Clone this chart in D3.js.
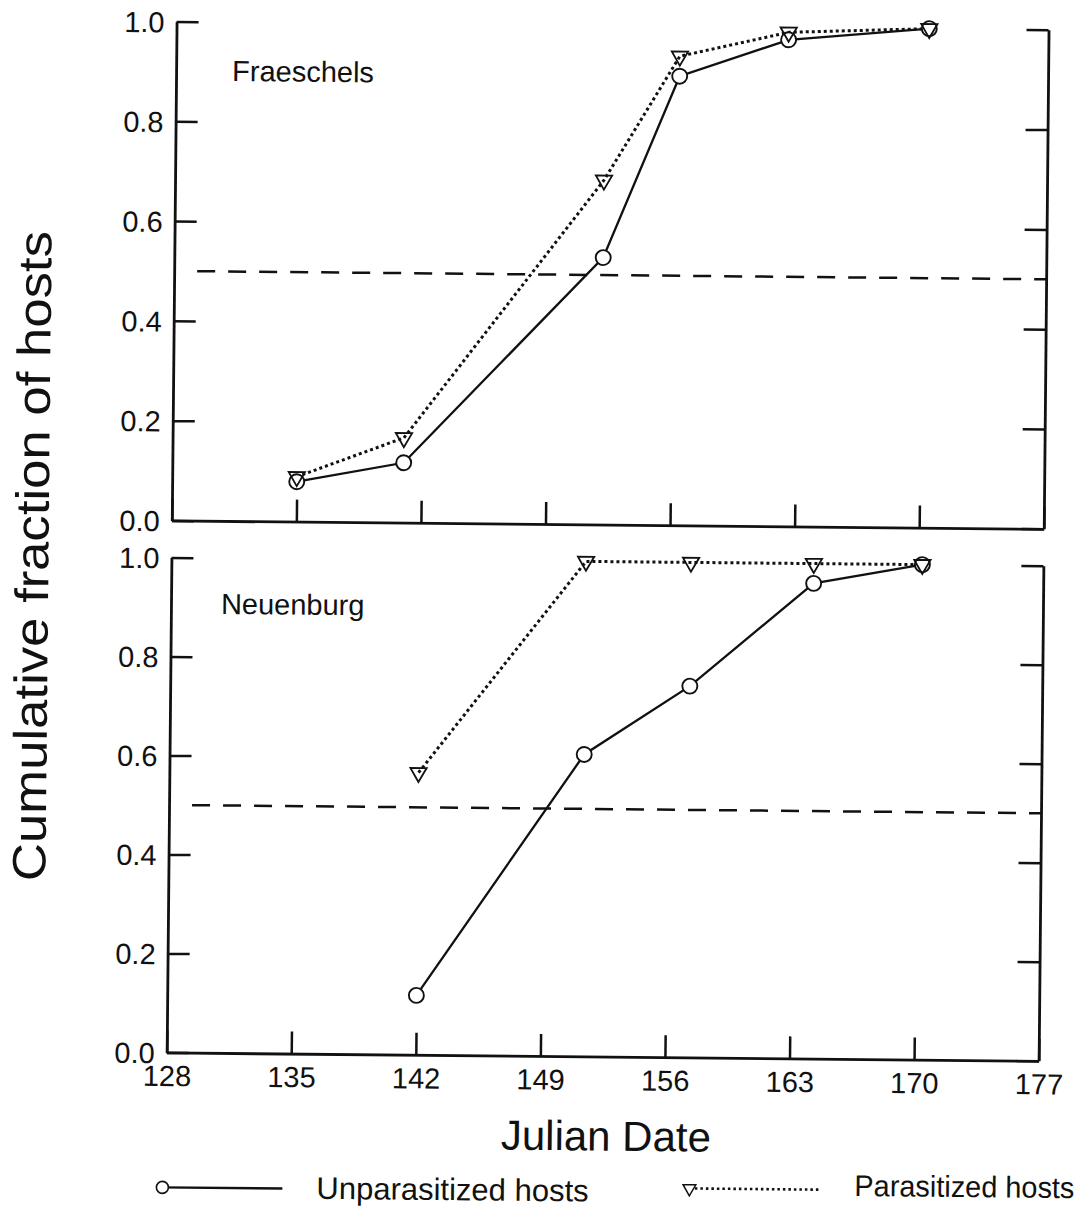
<!DOCTYPE html>
<html>
<head>
<meta charset="utf-8">
<script src="https://cdn.jsdelivr.net/npm/d3@7"></script>
<style>
  html, body { margin: 0; padding: 0; background: #fff; }
  svg { display: block; }
  text { font-family: "Liberation Sans", Arial, sans-serif; fill: #111; }
</style>
</head>
<body>
<svg id="chart" width="1089" height="1208"></svg>
<script>
// Julian-date axis ticks and fraction ticks
const dateTicks = [128, 135, 142, 149, 156, 163, 170, 177];
const fractionTicks = [0, 0.2, 0.4, 0.6, 0.8, 1.0];

// Fraeschels site
const fraeschelsDays = [135, 141, 152.1, 156.3, 162.4, 170.3];
const fraeschelsUnparasitized = [0.08, 0.12, 0.535, 0.90, 0.975, 1.0];
const fraeschelsParasitized = [0.09, 0.17, 0.69, 0.94, 0.99, 1.0];

// Neuenburg site
const neuenburgDays = [142, 151.3, 157.2, 164.1, 170.2];
const neuenburgUnparasitized = [0.12, 0.61, 0.75, 0.96, 1.0];
const neuenburgParasitized = [0.57, 1.0, 1.0, 1.0, 1.0];

const halfLevel = 0.5;

const siteNames = ["Fraeschels", "Neuenburg"];
const seriesNames = ["Unparasitized hosts", "Parasitized hosts"];

const svg = d3.select("#chart");
// the whole drawing sits slightly turned, as on the printed page
const root = svg.append("g").attr("transform", "rotate(0.55,544,604)");

const left = 171, right = 1043;
const x = d3.scaleLinear().domain([128, 177]).range([left, right]);

const panels = [
  { name: siteNames[0], top: 25, bottom: 524, days: fraeschelsDays,
    unpar: fraeschelsUnparasitized, par: fraeschelsParasitized, labels: false, labelPos: [227, 84] },
  { name: siteNames[1], top: 561, bottom: 1056, days: neuenburgDays,
    unpar: neuenburgUnparasitized, par: neuenburgParasitized, labels: true, labelPos: [221, 617] }
];

const triangle = d3.symbol().type(d3.symbolTriangle).size(115);
const tick = 22;
const ink = "#111";

panels.forEach(p => {
  const y = d3.scaleLinear().domain([0, 1]).range([p.bottom, p.top]);
  const g = root.append("g");

  // left axis with inward ticks and labels
  const ax = g.append("g").attr("transform", `translate(${left},0)`)
    .call(d3.axisLeft(y).tickValues(fractionTicks).tickSize(-tick).tickSizeOuter(0)
      .tickPadding(12).tickFormat(d3.format(".1f")));
  ax.selectAll("text").style("font-size", "29px").attr("dy", "0.36em");

  // right axis, ticks only
  g.append("g").attr("transform", `translate(${right},0)`)
    .call(d3.axisRight(y).tickValues(fractionTicks).tickSize(-tick).tickSizeOuter(0).tickFormat(""));

  // bottom axis
  const bx = g.append("g").attr("transform", `translate(0,${p.bottom})`)
    .call(d3.axisBottom(x).tickValues(dateTicks).tickSize(-tick).tickSizeOuter(0)
      .tickPadding(13).tickFormat(p.labels ? d3.format("d") : ""));
  bx.selectAll("text").style("font-size", "29px");

  g.selectAll(".domain").attr("stroke", ink).attr("stroke-width", 2.8);
  g.selectAll(".tick line").attr("stroke", ink).attr("stroke-width", 2.5);

  // 50% reference line
  g.append("line")
    .attr("x1", x(128) + 10).attr("x2", x(177))
    .attr("y1", y(halfLevel)).attr("y2", y(halfLevel))
    .attr("stroke", ink).attr("stroke-width", 2.5)
    .attr("stroke-dasharray", "18,13").attr("stroke-dashoffset", 18);

  const line = d3.line().x(d => x(d[0])).y(d => y(d[1]));
  const parPts = p.days.map((d, i) => [d, p.par[i]]);
  const unparPts = p.days.map((d, i) => [d, p.unpar[i]]);

  g.append("path").datum(parPts).attr("d", line)
    .attr("fill", "none").attr("stroke", ink).attr("stroke-width", 3)
    .attr("stroke-dasharray", "3,3");
  g.append("path").datum(unparPts).attr("d", line)
    .attr("fill", "none").attr("stroke", ink).attr("stroke-width", 2.3);

  g.selectAll(".circ").data(unparPts).join("circle")
    .attr("cx", d => x(d[0])).attr("cy", d => y(d[1])).attr("r", 7.5)
    .attr("fill", "#fff").attr("stroke", ink).attr("stroke-width", 1.9);
  g.selectAll(".tri").data(parPts).join("path")
    .attr("d", triangle)
    .attr("transform", d => `translate(${x(d[0])},${y(d[1])}) rotate(180)`)
    .attr("fill", "none").attr("stroke", ink).attr("stroke-width", 1.8);

  g.append("text").attr("x", p.labelPos[0]).attr("y", p.labelPos[1])
    .style("font-size", "29px").text(p.name);
});

// axis titles
root.append("text")
  .attr("transform", "translate(48,561) rotate(-90)")
  .attr("text-anchor", "middle").style("font-size", "47px")
  .attr("textLength", 650).attr("lengthAdjust", "spacingAndGlyphs")
  .text("Cumulative fraction of hosts");
root.append("text")
  .attr("x", 611).attr("y", 1150).attr("text-anchor", "middle")
  .style("font-size", "42px").text("Julian Date");

// legend
const lg = root.append("g");
lg.append("line").attr("x1", 168).attr("x2", 288).attr("y1", 1191).attr("y2", 1191)
  .attr("stroke", ink).attr("stroke-width", 2.3);
lg.append("circle").attr("cx", 168).attr("cy", 1191).attr("r", 6)
  .attr("fill", "#fff").attr("stroke", ink).attr("stroke-width", 1.6);
lg.append("text").attr("x", 322).attr("y", 1201).style("font-size", "31px").text(seriesNames[0]);

lg.append("line").attr("x1", 695).attr("x2", 827).attr("y1", 1187).attr("y2", 1187)
  .attr("stroke", ink).attr("stroke-width", 2.6).attr("stroke-dasharray", "2.5,3");
lg.append("path").attr("d", d3.symbol().type(d3.symbolTriangle).size(70))
  .attr("transform", "translate(695,1187) rotate(180)")
  .attr("fill", "#fff").attr("stroke", ink).attr("stroke-width", 1.5);
lg.append("text").attr("x", 860).attr("y", 1193).style("font-size", "30px")
  .attr("textLength", 220).attr("lengthAdjust", "spacingAndGlyphs").text(seriesNames[1]);
</script>
</body>
</html>
